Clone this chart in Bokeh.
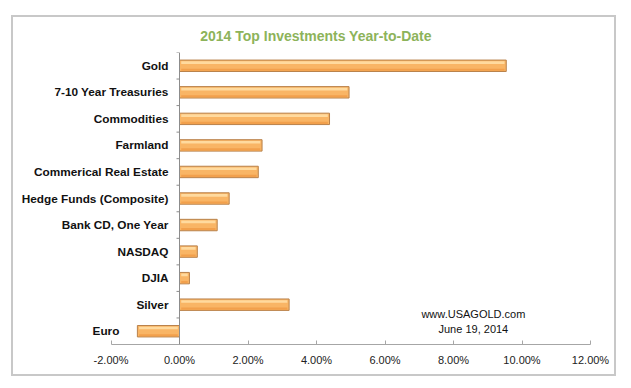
from bokeh.plotting import figure
from bokeh.models import (ColumnDataSource, FactorRange, Range1d, FixedTicker,
                          PrintfTickFormatter, Span)
from bokeh.transform import dodge
from bokeh.core.properties import value
from bokeh.embed import file_html
from bokeh.resources import INLINE

# ---- data ----
categories = ["Gold", "7-10 Year Treasuries", "Commodities", "Farmland",
              "Commerical Real Estate", "Hedge Funds (Composite)",
              "Bank CD, One Year", "NASDAQ", "DJIA", "Silver", "Euro"]
returns_pct = [9.54, 4.95, 4.38, 2.41, 2.30, 1.45, 1.10, 0.52, 0.29, 3.20, -1.23]
x_ticks = [-2, 0, 2, 4, 6, 8, 10, 12]
title_text = "2014 Top Investments Year-to-Date"
source_note = "www.USAGOLD.com\nJune 19, 2014"

FONT = "Liberation Sans"
PX_PER_UNIT = 34.25

p = figure(width=605, height=361, output_backend="svg", toolbar_location=None,
           y_range=FactorRange(factors=list(reversed(categories))),
           x_range=Range1d(-4.818, 12.788),
           min_border_left=1, min_border_right=1, min_border_top=34,
           min_border_bottom=34)
p.styles = {"border": "2px solid #C8C8C8", "margin-left": "11px", "margin-top": "15px"}
p.outline_line_color = None
p.xgrid.visible = False
p.ygrid.visible = False
p.yaxis.visible = False
p.background_fill_color = "white"
p.border_fill_color = "white"

# title
p.title.text = title_text
p.title.align = "center"
p.title.text_font = FONT
p.title.text_font_size = "14px"
p.title.text_font_style = "bold"
p.title.text_color = "#8DB35A"
p.title.standoff = 17

# x axis
ax = p.xaxis[0]
ax.ticker = FixedTicker(ticks=x_ticks)
ax.formatter = PrintfTickFormatter(format="%.2f%%")
ax.bounds = (min(x_ticks), max(x_ticks))
ax.axis_line_color = "#A6A6A6"
ax.major_tick_line_color = "#A6A6A6"
ax.major_tick_in = 4
ax.major_tick_out = 0
ax.minor_tick_in = 0
ax.minor_tick_out = 0
ax.major_label_text_font = FONT
ax.major_label_text_font_size = "11px"
ax.major_label_text_color = "#222222"
ax.major_label_standoff = 9

# data source
left = [min(v, 0) for v in returns_pct]
right = [max(v, 0) for v in returns_pct]
inset = 0.05
src = ColumnDataSource(dict(
    cat=categories, val=returns_pct, left=left, right=right,
    hl_left=[l + inset for l in left], hl_right=[r - inset for r in right],
    lab_x=left, lab_off=[-11 if v >= 0 else -18 for v in returns_pct],
))

# bars
p.hbar(y="cat", left="left", right="right", height=0.43, source=src,
       fill_color="#F9B565", line_color="#B9814A", line_width=1)
p.hbar(y=dodge("cat", 0.12, range=p.y_range), left="hl_left", right="hl_right",
       height=0.1, source=src, fill_color="#FFDA9E", line_color=None)
p.hbar(y=dodge("cat", -0.15, range=p.y_range), left="hl_left", right="hl_right",
       height=0.08, source=src, fill_color="#F2A04C", line_color=None)

# category labels
p.text(x="lab_x", y="cat", text="cat", x_offset="lab_off", source=src,
       text_align="right", text_baseline="middle", text_font=value(FONT),
       text_font_size="11.8px", text_font_style="bold", text_color="#111111")

# vertical axis line at zero with small ticks at category boundaries
p.add_layout(Span(location=0, dimension="height", line_color="#8C8C8C", line_width=1))
p.segment(x0=-3 / PX_PER_UNIT, x1=0, y0=dodge("cat", 0.5, range=p.y_range),
          y1=dodge("cat", 0.5, range=p.y_range), source=ColumnDataSource(dict(cat=categories)),
          line_color="#8C8C8C", line_width=1)

# source note
nsrc = ColumnDataSource(dict(cat=["Silver"], t=[source_note]))
p.text(x=8.58, y=dodge("cat", -0.64, range=p.y_range), text="t", source=nsrc,
       text_align="center", text_baseline="middle", text_font=value(FONT),
       text_font_size="11px", text_color="#111111", text_line_height=1.27)

open("out.html", "w").write(file_html(p, INLINE))
